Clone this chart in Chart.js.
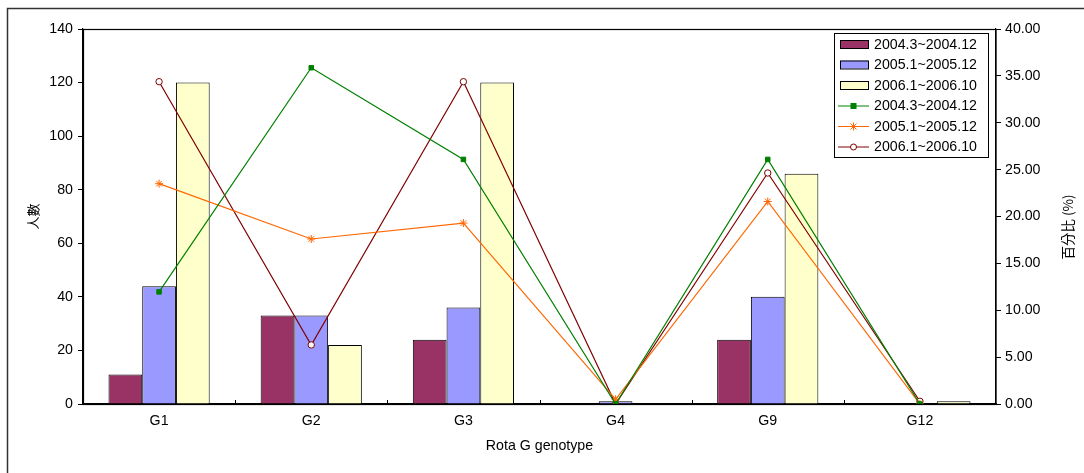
<!DOCTYPE html>
<html><head><meta charset="utf-8">
<script src="https://cdn.jsdelivr.net/npm/chart.js@4.4.1/dist/chart.umd.min.js"></script>
<style>html,body{margin:0;padding:0;background:#fff;}#wrap{width:1084px;height:473px;position:relative;}</style>
</head><body><div id="wrap"><canvas id="c" width="1084" height="473"></canvas></div>
<script>
const categories = ['G1','G2','G3','G4','G9','G12'];
const seriesNames = ['2004.3~2004.12','2005.1~2005.12','2006.1~2006.10'];
const count2004 = [11, 33, 24, 0, 24, 0];
const count2005 = [44, 33, 36, 1, 40, 0];
const count2006 = [120, 22, 120, 0, 86, 1];
const pct2004 = [11.96, 35.87, 26.09, 0, 26.09, 0];
const pct2005 = [23.5, 17.6, 19.3, 0.5, 21.6, 0];
const pct2006 = [34.38, 6.30, 34.38, 0, 24.64, 0.29];
const leftTicks = [0,20,40,60,80,100,120,140];
const rightTicks = [0,5,10,15,20,25,30,35,40];
const yTitle = '人數';
const y1Title = '百分比 (%)';
const xTitle = 'Rota G genotype';

const FONT = '"Liberation Sans", Arial, sans-serif';
const FS = 14.2;
const barColors = ['#993366','#9999FF','#FFFFCC'];
const lineColors = ['#008000','#FF6600','#800000'];

function drawMarker(ctx, style, x, y, r, fill, stroke){
  ctx.save();
  ctx.lineWidth = 1;
  ctx.strokeStyle = stroke; ctx.fillStyle = fill;
  if (style==='rect'){ ctx.fillRect(x-r,y-r,2*r,2*r); }
  else if (style==='circle'){ ctx.beginPath(); ctx.arc(x,y,r,0,Math.PI*2); ctx.fill(); ctx.stroke(); }
  else if (style==='star'){
    ctx.beginPath();
    ctx.moveTo(x-r,y); ctx.lineTo(x+r,y); ctx.moveTo(x,y-r); ctx.lineTo(x,y+r);
    const d=r*0.75; ctx.moveTo(x-d,y-d); ctx.lineTo(x+d,y+d); ctx.moveTo(x-d,y+d); ctx.lineTo(x+d,y-d);
    ctx.stroke();
  }
  ctx.restore();
}

const decor = {
  id:'decor',
  afterDraw(chart){
    const ctx = chart.ctx, a = chart.chartArea;
    ctx.save();
    // outer frame
    ctx.strokeStyle = '#333'; ctx.lineWidth = 1.5;
    ctx.beginPath(); ctx.moveTo(7.5, 480); ctx.lineTo(7.5, 8.5); ctx.lineTo(1090, 8.5); ctx.stroke();
    // plot frame
    ctx.strokeStyle = '#000'; ctx.lineWidth = 1.2;
    ctx.strokeRect(a.left+0.5, a.top+0.5, a.right-a.left-0.5, a.bottom-a.top);
    // x inward ticks at category boundaries
    const step = (a.right - a.left)/categories.length;
    ctx.lineWidth = 1;
    for (let i=1;i<categories.length;i++){
      const x = Math.round(a.left + i*step)+0.5;
      ctx.beginPath(); ctx.moveTo(x, a.bottom); ctx.lineTo(x, a.bottom-4); ctx.stroke();
    }
    // titles
    ctx.fillStyle = '#000';
    ctx.font = FS + 'px ' + FONT;
    ctx.textAlign = 'center'; ctx.textBaseline = 'middle';
    ctx.fillText(xTitle, (a.left+a.right)/2, 446);
    ctx.save(); ctx.translate(33, (a.top+a.bottom)/2); ctx.rotate(-Math.PI/2);
    ctx.font = '13px "Noto Sans CJK TC", ' + FONT; ctx.fillText(yTitle, 0, 0); ctx.restore();
    ctx.save(); ctx.translate(1068, 227); ctx.rotate(-Math.PI/2);
    ctx.font = '13.5px "Noto Sans CJK TC", ' + FONT; ctx.fillText(y1Title, 0, 0); ctx.restore();
    // legend
    const lx = 834, ly = 33, lw = 154, lh = 124;
    ctx.fillStyle = '#fff'; ctx.fillRect(lx, ly, lw, lh);
    ctx.strokeStyle = '#000'; ctx.lineWidth = 1;
    ctx.strokeRect(lx+0.5, ly+0.5, lw, lh);
    ctx.font = FS + 'px ' + FONT; ctx.textAlign = 'left';
    const rowY = [44, 64.5, 85, 105.5, 126, 146.5];
    for (let i=0;i<3;i++){
      ctx.fillStyle = barColors[i]; ctx.fillRect(840, rowY[i]-4, 28, 8);
      ctx.strokeStyle = '#000'; ctx.strokeRect(840.5, rowY[i]-3.5, 28, 8);
      ctx.fillStyle = '#000'; ctx.fillText(seriesNames[i], 874, rowY[i]+1);
    }
    const styles = ['rect','star','circle'];
    const fills = ['#008000','#FF6600','#fff'];
    const radii = [3,4,3];
    for (let i=0;i<3;i++){
      const y = rowY[i+3];
      ctx.strokeStyle = lineColors[i]; ctx.lineWidth = 1;
      ctx.beginPath(); ctx.moveTo(838, y+0.5); ctx.lineTo(869, y+0.5); ctx.stroke();
      drawMarker(ctx, styles[i], 853.5, y+0.5, radii[i], fills[i], lineColors[i]);
      ctx.fillStyle = '#000'; ctx.fillText(seriesNames[i], 874, y+1);
    }
    ctx.restore();
  }
};

const barDs = [count2004, count2005, count2006].map((d,i)=>({
  type:'bar', label: seriesNames[i], data: d, yAxisID:'y', order: 2,
  backgroundColor: barColors[i], borderColor:'#000', borderWidth:1,
  categoryPercentage: 0.665, barPercentage: 1.0
}));
const styles = ['rect','star','circle'];
const lineDs = [pct2004, pct2005, pct2006].map((d,i)=>({
  type:'line', label: seriesNames[i], data: d, yAxisID:'y1', order: 1,
  borderColor: lineColors[i], borderWidth: 1.2, tension: 0,
  pointStyle: styles[i], pointRadius: i===1?4:3.2, pointBorderWidth: 1,
  pointBackgroundColor: i===2 ? '#fff' : lineColors[i], pointBorderColor: lineColors[i],
  fill:false
}));

new Chart(document.getElementById('c'), {
  data: { labels: categories, datasets: [...barDs, ...lineDs] },
  options: {
    responsive:false, animation:false,
    layout:{ padding:{ top:29, left:0, right:0, bottom:0 } },
    plugins:{ legend:{display:false}, tooltip:{enabled:false} },
    scales:{
      x:{
        offset:true,
        grid:{ display:false, drawTicks:false },
        border:{ display:true, color:'#000', width:1.2 },
        ticks:{ color:'#000', font:{ family:FONT, size:FS }, padding:9, maxRotation:0 },
        afterFit(s){ s.height = 69; }
      },
      y:{
        position:'left', min:0, max:140,
        afterBuildTicks(s){ s.ticks = leftTicks.map(v=>({value:v})); },
        grid:{ drawOnChartArea:false, drawTicks:true, tickLength:5, color:'#000' },
        border:{ display:true, color:'#000', width:1.2 },
        ticks:{ color:'#000', font:{ family:FONT, size:FS }, padding:5 },
        afterFit(s){ s.width = 83; }
      },
      y1:{
        position:'right', min:0, max:40,
        afterBuildTicks(s){ s.ticks = rightTicks.map(v=>({value:v})); },
        grid:{ drawOnChartArea:false, drawTicks:true, tickLength:5, color:'#000' },
        border:{ display:true, color:'#000', width:1.2 },
        ticks:{ color:'#000', font:{ family:FONT, size:FS }, padding:4, callback:v=>Number(v).toFixed(2) },
        afterFit(s){ s.width = 88; }
      }
    }
  },
  plugins:[decor]
});
</script></body></html>
